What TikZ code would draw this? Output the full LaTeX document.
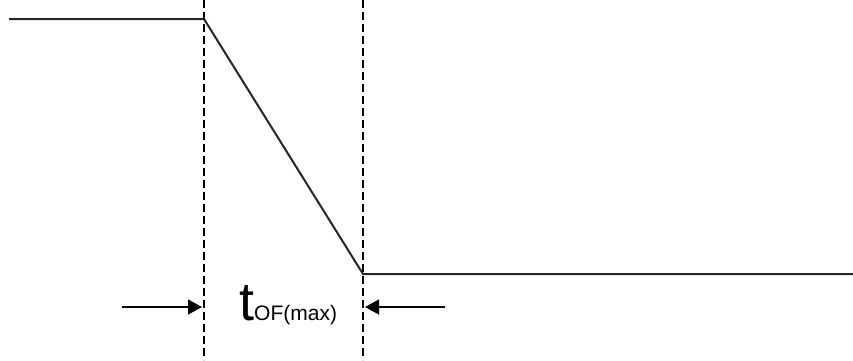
\documentclass[tikz,border=0pt]{standalone}
\usepackage{fontspec}
\setmainfont{Liberation Sans}
\usetikzlibrary{arrows.meta,positioning}
\tikzset{
  wave/.style={line width=2pt,black!85},
  guide/.style={line width=1.1pt,dash pattern=on 8pt off 4pt},
  dimarrow/.style={line width=1.2pt,-{Triangle[length=14pt,width=15pt]}}
}
\begin{document}
\begin{tikzpicture}[x=1pt,y=-1pt]
  \useasboundingbox (0,0) rectangle (853,360);
  % Waveform corners
  \coordinate (start) at (9,19);
  \coordinate (fallA) at (204,19);
  \coordinate (fallB) at (363,274);
  \coordinate (finish) at (853,274);
  \draw[wave] (start) -- (fallA) -- (fallB) -- (finish);
  % Guide lines
  \coordinate (guideAtop) at (204,0);
  \coordinate (guideAbot) at (204,360);
  \coordinate (guideBtop) at (363,0);
  \coordinate (guideBbot) at (363,360);
  \draw[guide] (guideAtop) -- (guideAbot);
  \draw[guide] (guideBtop) -- (guideBbot);
  % Dimension arrows
  \coordinate (arrLtail) at (122,307);
  \coordinate (arrLhead) at (202,307);
  \coordinate (arrRtail) at (445,307);
  \coordinate (arrRhead) at (365,307);
  \draw[dimarrow] (arrLtail) -- (arrLhead);
  \draw[dimarrow] (arrRtail) -- (arrRhead);
  % Label
  \node[inner sep=0pt,anchor=base west] (tlabel) at (239,320)
    {\fontsize{54}{54}\selectfont t\fontsize{21}{21}\selectfont OF(max)};
\end{tikzpicture}
\end{document}
